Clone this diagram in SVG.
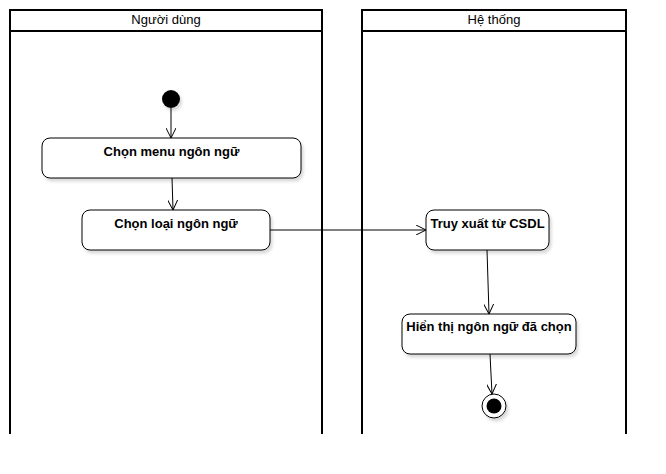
<svg xmlns="http://www.w3.org/2000/svg" width="666" height="474" viewBox="0 0 666 474">
<style>
.lane{fill:none;stroke:#000;stroke-width:2}
.hdr{font-family:"Liberation Sans",Arial,sans-serif;font-size:13px;fill:#000;text-anchor:middle}
.act{fill:#fff;stroke:#000;stroke-width:1}
.lbl{font-family:"Liberation Sans",Arial,sans-serif;font-size:13px;font-weight:bold;fill:#000;text-anchor:middle}
.edge{fill:none;stroke:#000;stroke-width:1;marker-end:url(#arr)}
</style>
<defs>
<marker id="arr" viewBox="0 0 10 10" refX="10" refY="5" markerWidth="10" markerHeight="10" markerUnits="userSpaceOnUse" orient="auto">
<path d="M0,0 L10,5 L0,10" fill="none" stroke="#000" stroke-width="1"/>
</marker>
<filter id="sh" x="-10%" y="-10%" width="130%" height="140%">
<feDropShadow dx="2" dy="3" stdDeviation="1.5" flood-color="#000" flood-opacity="0.15"/>
</filter>
</defs>
<g id="lane-user">
<path class="lane" d="M10,434 V10 H322 V434 M10,31 H322"/>
<text class="hdr" x="166" y="24">Người dùng</text>
</g>
<g id="lane-system">
<path class="lane" d="M362,434 V10 H626 V434 M362,31 H626"/>
<text class="hdr" x="494" y="24">Hệ thống</text>
</g>
<g id="start">
<circle cx="171" cy="99" r="9" fill="#000" filter="url(#sh)"/>
</g>
<g id="chon-menu">
<rect class="act" x="42" y="138" width="259" height="40" rx="8" filter="url(#sh)"/>
<text class="lbl" x="171.5" y="156">Chọn menu ngôn ngữ</text>
</g>
<g id="chon-loai">
<rect class="act" x="82" y="210" width="188" height="40" rx="8" filter="url(#sh)"/>
<text class="lbl" x="176" y="228">Chọn loại ngôn ngữ</text>
</g>
<g id="truy-xuat">
<rect class="act" x="426" y="210" width="123" height="40" rx="8" filter="url(#sh)"/>
<text class="lbl" x="487.5" y="228">Truy xuất từ CSDL</text>
</g>
<g id="hien-thi">
<rect class="act" x="402" y="314" width="174" height="40" rx="8" filter="url(#sh)"/>
<text class="lbl" x="489" y="331">Hiển thị ngôn ngữ đã chọn</text>
</g>
<g id="end">
<circle cx="494" cy="406" r="12" fill="#fff" stroke="#000" stroke-width="1" filter="url(#sh)"/>
<circle cx="494" cy="406" r="7.5" fill="#000"/>
</g>
<g id="connectors">
<path class="edge" d="M171,108 L171,138"/>
<path class="edge" d="M172,178 L173,210"/>
<path class="edge" d="M270,230 L426,230"/>
<path class="edge" d="M487,250 L489,314"/>
<path class="edge" d="M490,354 L492,394"/>
</g>
</svg>
